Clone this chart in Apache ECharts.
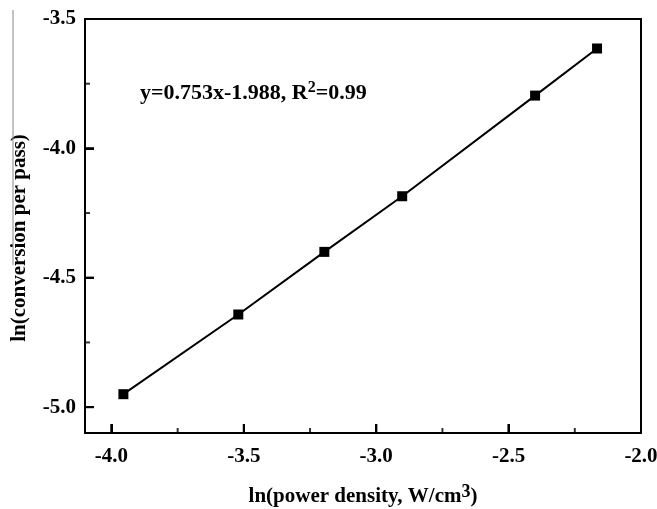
<!DOCTYPE html>
<html><head><meta charset="utf-8">
<script src="https://cdn.jsdelivr.net/npm/echarts@6/dist/echarts.min.js"></script>
<style>html,body{margin:0;padding:0;background:#fff}#c{width:657px;height:509px}</style>
</head><body><div id="c"></div>
<script>
const xValues = [-3.955, -3.521, -3.196, -2.902, -2.400, -2.166];
const yValues = [-4.950, -4.642, -4.400, -4.185, -3.796, -3.614];
const xTicks = [-4.0, -3.5, -3.0, -2.5, -2.0];
const xMinorTicks = [-3.75, -3.25, -2.75, -2.25];
const yTicks = [-5.0, -4.5, -4.0, -3.5];
const yMinorTicks = [-4.75, -4.25, -3.75];
const xRange = [-4.1, -2.0];
const yRange = [-5.1, -3.5];
const fitText = 'y=0.753x-1.988, R';
const fitR2 = '=0.99';
const xName = 'ln(power density, W/cm';
const yName = 'ln(conversion per pass)';

const font = '"Liberation Serif", "Times New Roman", serif';
const black = '#000';
const tickLabel = {color: black, fontFamily: font, fontWeight: 'bold', fontSize: 21};

function tickSeries(data, size, offset) {
  return {
    type: 'scatter', data: data, symbol: 'rect', symbolSize: size, symbolOffset: offset,
    itemStyle: {color: black}, silent: true, clip: false, z: 5, animation: false
  };
}

const chart = echarts.init(document.getElementById('c'));
chart.setOption({
  animation: false,
  grid: {left: 85, right: 16, top: 19, bottom: 76, show: true, borderColor: black, borderWidth: 2,
         backgroundColor: 'transparent', containLabel: false, outerBoundsMode: 'none'},
  xAxis: {
    type: 'value', min: xRange[0], max: xRange[1],
    axisLine: {show: true, lineStyle: {color: black, width: 2}},
    axisTick: {show: true, inside: true, length: 9, lineStyle: {color: black, width: 2}, customValues: xTicks},
    splitLine: {show: false},
    axisLabel: Object.assign({}, tickLabel, {margin: 13, customValues: xTicks, formatter: v => v.toFixed(1)}),
    name: '{a|' + xName + '}{s|3}{a|)}',
    nameLocation: 'middle', nameGap: 50,
    nameTextStyle: {
      rich: {
        a: {fontFamily: font, fontWeight: 'bold', fontSize: 21, color: black, verticalAlign: 'bottom', lineHeight: 24},
        s: {fontFamily: font, fontWeight: 'bold', fontSize: 18, color: black, verticalAlign: 'top', padding: [0,0,13,0], lineHeight: 24}
      }
    }
  },
  yAxis: {
    type: 'value', min: yRange[0], max: yRange[1],
    axisLine: {show: true, lineStyle: {color: black, width: 2}},
    axisTick: {show: true, inside: true, length: 9, lineStyle: {color: black, width: 2}, customValues: yTicks},
    splitLine: {show: false},
    axisLabel: Object.assign({}, tickLabel, {margin: 9, customValues: yTicks, formatter: v => v.toFixed(1)})
  },
  series: [
    {
      type: 'line',
      data: xValues.map((x, i) => [x, yValues[i]]),
      symbol: 'rect', symbolSize: 10,
      itemStyle: {color: black},
      lineStyle: {color: black, width: 2},
      z: 3
    },
    tickSeries(xTicks.map(v => [v, yRange[0]]), [2, 9], [0, -4.5]),
    tickSeries(xMinorTicks.map(v => [v, yRange[0]]), [2, 5], [0, -2.5]),
    tickSeries(yTicks.map(v => [xRange[0], v]), [9, 2], [4.5, 0]),
    tickSeries(yMinorTicks.map(v => [xRange[0], v]), [5, 2], [2.5, 0])
  ]
});

// Text overlays and major ticks (ticks positioned through the chart's own scales).
const graphics = [
  {id: 'fit', type: 'text', left: 140, top: 80,
   style: {
     text: '{a|' + fitText + '}{s|2}{a|' + fitR2 + '}',
     rich: {
       a: {fontFamily: font, fontWeight: 'bold', fontSize: 22, fill: black, verticalAlign: 'bottom', lineHeight: 24},
       s: {fontFamily: font, fontWeight: 'bold', fontSize: 16, fill: black, verticalAlign: 'top', padding: [0,0,11,0], lineHeight: 24}
     }
   }},
  {id: 'yname', type: 'text', x: 20, y: 238, rotation: Math.PI / 2,
   style: {text: yName, fontFamily: font, fontWeight: 'bold', fontSize: 21, fill: black,
           align: 'center', verticalAlign: 'middle'}},
  {id: 'edge', type: 'line', shape: {x1: 13, y1: 10, x2: 13, y2: 265}, style: {stroke: '#888', lineWidth: 1}}
];
xTicks.forEach((v, i) => {
  const p = chart.convertToPixel({gridIndex: 0}, [v, yRange[0]]);
  graphics.push({id: 'xt' + i, type: 'line', z: 100, shape: {x1: p[0], y1: p[1], x2: p[0], y2: p[1] - 9},
                 style: {stroke: black, lineWidth: 2}});
});
yTicks.forEach((v, i) => {
  const p = chart.convertToPixel({gridIndex: 0}, [xRange[0], v]);
  graphics.push({id: 'yt' + i, type: 'line', z: 100, shape: {x1: p[0], y1: p[1], x2: p[0] + 9, y2: p[1]},
                 style: {stroke: black, lineWidth: 2}});
});
chart.setOption({graphic: graphics});
</script></body></html>
